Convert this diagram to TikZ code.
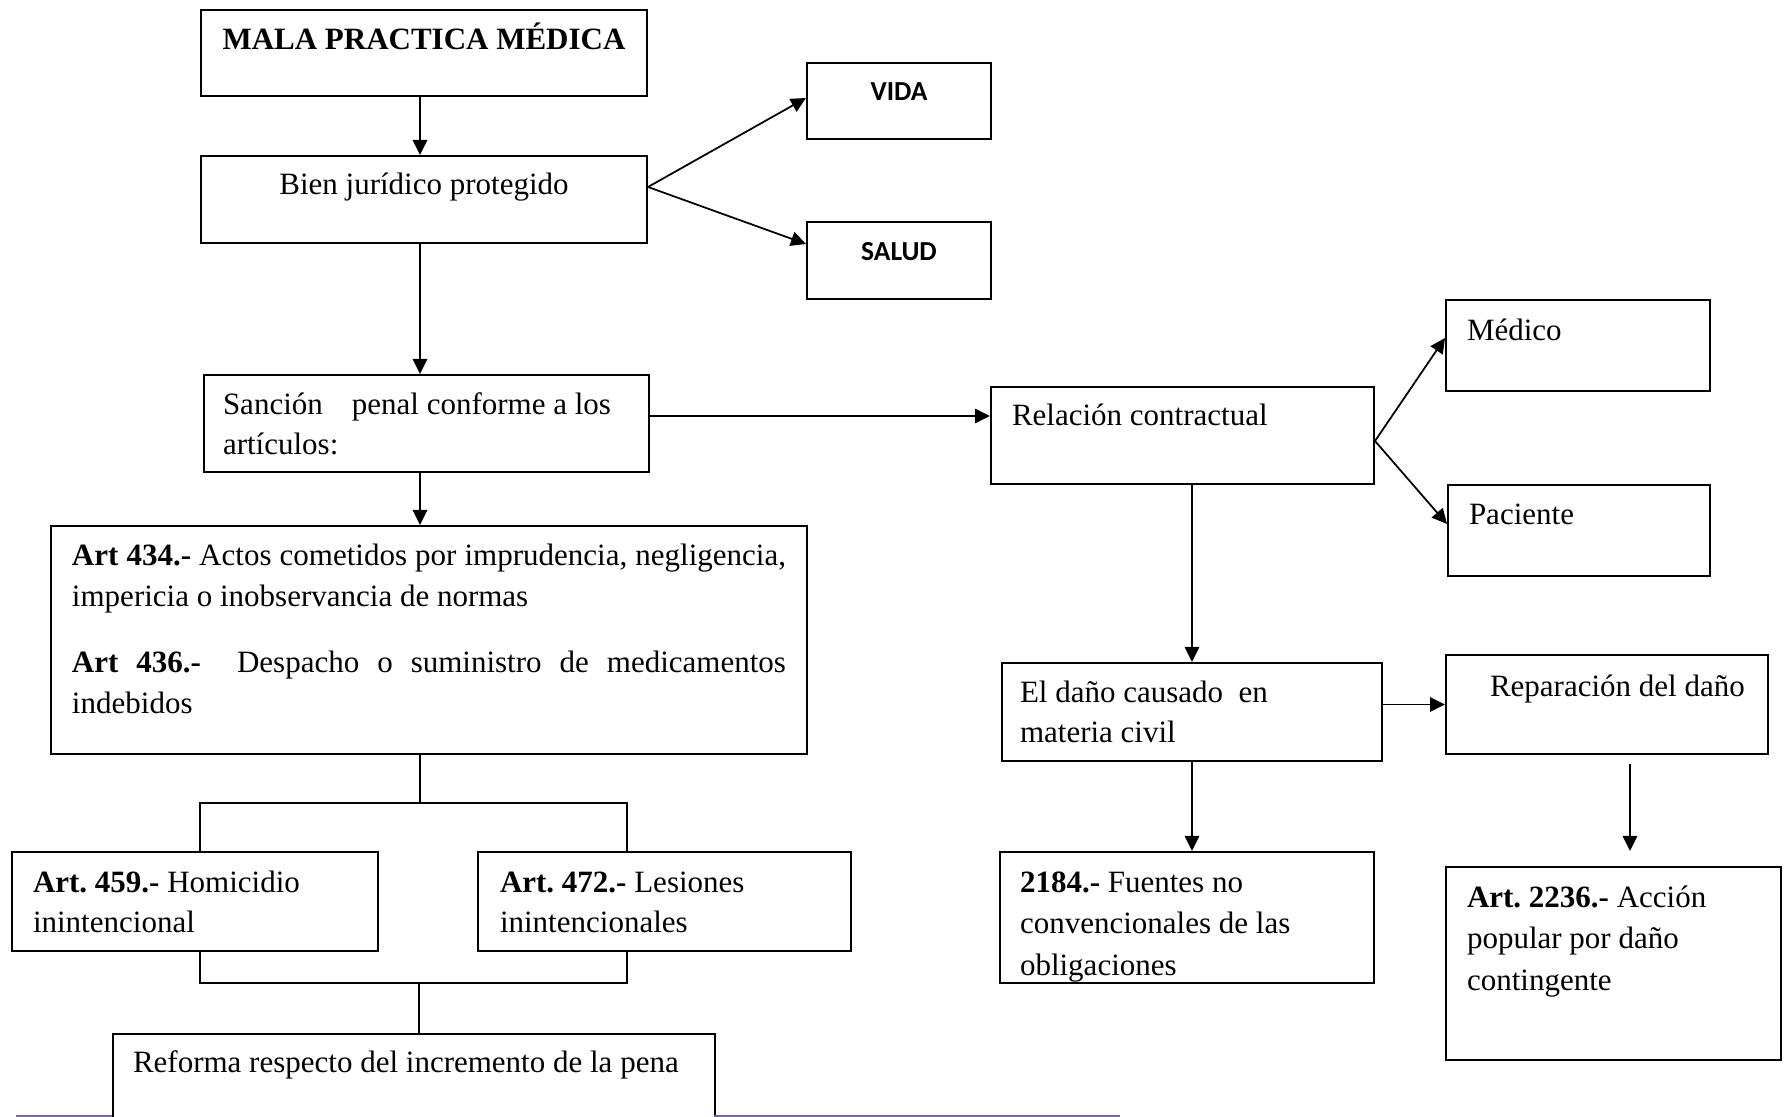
\documentclass[tikz,border=0pt]{standalone}
\usepackage{fontspec}
\setmainfont{Liberation Serif}
\newfontfamily\calibri{Carlito}
\usetikzlibrary{arrows.meta}
\definecolor{linkpurple}{HTML}{8064A2}
\tikzset{
    box/.style={draw, line width=0.8pt, anchor=north west, inner ysep=0pt, align=flush left},
    capbox/.style={box, inner xsep=0pt, text width=73.6pt, align=flush center, font=\calibri\bfseries\fontsize{11}{13}\selectfont},
    arr/.style={line width=0.7pt, -{Triangle[length=6pt,width=5.8pt]}},
    link/.style={line width=0.7pt}
}
\begin{document}
\begin{tikzpicture}[x=0.4pt, y=-0.4pt, font=\fontsize{12.4}{16.3}\selectfont\frenchspacing]
    \useasboundingbox (0,0) rectangle (1789,1117);

    % rama penal
    \node[box, inner xsep=0pt, text width=178.4pt, align=flush center, text height=15.8pt, text depth=18.6pt] (mala) at (200,9) {\textbf{MALA PRACTICA MÉDICA}};
    \node[box, inner xsep=0pt, text width=178.4pt, align=flush center, text height=15.3pt, text depth=19.5pt] (bien) at (200,155) {Bien jurídico protegido};
    \node[capbox, text height=14.9pt, text depth=15.5pt] (vida) at (806,62) {VIDA};
    \node[capbox, text height=15.4pt, text depth=15.4pt] (salud) at (806,221) {SALUD};
    \node[box, inner xsep=7.6pt, text width=162.8pt, text height=15.7pt, text depth=23.1pt] (sancion) at (203,374) {Sanción\hspace{11.6pt}penal conforme a los\\artículos:};
    \node[box, inner xsep=8.4pt, text width=285.6pt, align=justify, text height=16pt, text depth=75.2pt] (art434) at (50,525)
        {\textbf{Art 434.-} Actos cometidos por imprudencia, negligencia,\linebreak impericia o inobservancia de normas\\[10pt]
         \textbf{Art 436.-}\ \ Despacho o suministro de medicamentos\linebreak indebidos};
    \node[box, inner xsep=8.4pt, text width=129.6pt, text height=16.1pt, text depth=23.5pt] (art459) at (11,851) {\textbf{Art. 459.-} Homicidio\\inintencional};
    \node[box, inner xsep=8.8pt, text width=131.6pt, text height=16.1pt, text depth=23.5pt] (art472) at (477,851) {\textbf{Art. 472.-} Lesiones\\inintencionales};
    \node[box, inner xsep=8pt, text width=224.8pt, text height=15.3pt, text depth=27.5pt] (reforma) at (112,1033) {Reforma respecto del incremento de la pena};

    % rama civil
    \node[box, inner xsep=8.4pt, text width=136.4pt, text height=15.3pt, text depth=23.5pt] (relacion) at (990,386) {Relación contractual};
    \node[box, inner xsep=8.4pt, text width=88.8pt, text height=16.1pt, text depth=20.3pt] (medico) at (1445,299) {Médico};
    \node[box, inner xsep=8.4pt, text width=88pt, text height=15.7pt, text depth=20.7pt] (paciente) at (1447,484) {Paciente};
    \node[box, inner xsep=7.2pt, text width=137.6pt, text height=15.7pt, text depth=23.5pt] (dano) at (1001,662) {El daño causado\ \ en\\materia civil};
    \node[box, inner xsep=0pt, text width=128.8pt, text height=16.5pt, text depth=23.1pt] (reparacion) at (1445,654) {\hspace*{17.6pt}Reparación del daño};
    \node[box, inner xsep=8pt, text width=133.6pt, text height=16.1pt, text depth=36.3pt] (n2184) at (999,851) {\textbf{2184.-} Fuentes no\\[0.4pt]convencionales de las\\[0.4pt]obligaciones};
    \node[box, inner xsep=8.4pt, text width=117.2pt, text height=16.1pt, text depth=61.1pt] (art2236) at (1445,866) {\textbf{Art. 2236.-} Acción\\[0.3pt]popular por daño\\[0.3pt]contingente};

    % conectores
    \coordinate (mid) at (420,0);
    \draw[arr] (mala.south -| mid) -- (bien.north -| mid);
    \draw[arr] ([yshift=5pt]bien.east) -- ([yshift=1.2pt]vida.west);
    \draw[arr] ([yshift=5pt]bien.east) -- ([yshift=6.6pt]salud.west);
    \draw[arr] (bien.south -| mid) -- (sancion.north -| mid);
    \draw[arr] (sancion.south -| mid) -- (art434.north -| mid);
    \draw[arr] ([yshift=3pt]sancion.east) -- ([yshift=3pt]sancion.east -| relacion.west);

    \coordinate (up) at (420,803);
    \coordinate (upl) at (200,803);
    \coordinate (upr) at (627,803);
    \coordinate (dn) at (419,983);
    \coordinate (dnl) at (200,983);
    \coordinate (dnr) at (627,983);
    \draw[link] (art434.south -| up) -- (up);
    \draw[link] (art459.north -| upl) -- (upl) -- (upr) -- (art472.north -| upr);
    \draw[link] (art459.south -| dnl) -- (dnl) -- (dnr) -- (art472.south -| dnr);
    \draw[link] (dn) -- (reforma.north -| dn);

    \draw[arr] ([yshift=-2.2pt]relacion.east) -- ([yshift=3pt]medico.west);
    \draw[arr] ([yshift=-2.2pt]relacion.east) -- ([yshift=2.6pt]paciente.west);
    \draw[arr] (dano.north |- relacion.south) -- (dano.north);
    \draw[arr] (dano.east |- reparacion.west) -- (reparacion.west);
    \draw[arr] (dano.south) -- (dano.south |- n2184.north);
    \draw[arr, shorten <=3.6pt, shorten >=6pt] ([xshift=9.2pt]reparacion.south) -- ([xshift=9.2pt]reparacion.south |- art2236.north);

    % borde de pagina
    \draw[linkpurple, line width=0.8pt] (16,1116) -- (112,1116) (714,1116) -- (1120,1116);
\end{tikzpicture}
\end{document}
